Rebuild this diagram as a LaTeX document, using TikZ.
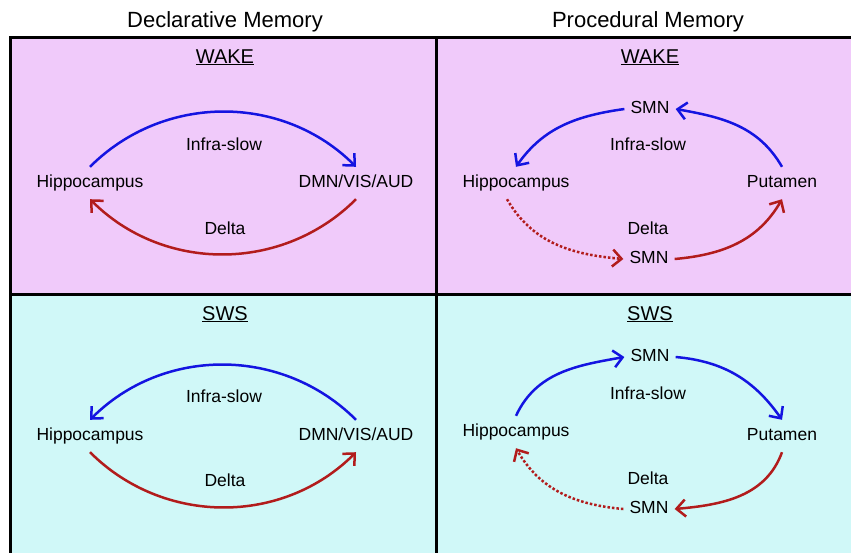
\documentclass[tikz,border=0pt]{standalone}
\usepackage{fontspec}
\setmainfont{Liberation Sans}
\usetikzlibrary{arrows.meta}
\definecolor{wakepink}{RGB}{240,202,250}
\definecolor{swscyan}{RGB}{208,248,248}
\definecolor{infrablue}{RGB}{20,20,225}
\definecolor{deltared}{RGB}{178,28,28}

\begin{document}
\begin{tikzpicture}[x=1pt,y=1pt]
	%
	% `region' is used for the brain regions (Hippocampus, SMN, ...).
	% `band' is used for the frequency bands, `stage' for WAKE and SWS.
	% `infra' and `deltawave' are the blue and red arrows.
	\tikzstyle{region} = [font=\fontsize{17.5}{20}\selectfont,anchor=base,text height=12pt,text depth=4pt,inner xsep=6pt,inner ysep=8pt]
	\tikzstyle{band} = [font=\fontsize{17.5}{20}\selectfont,anchor=base]
	\tikzstyle{stage} = [font=\fontsize{20}{24}\selectfont,anchor=base]
	\tikzstyle{heading} = [font=\fontsize{22}{26}\selectfont,anchor=base]
	\tikzstyle{infra} = [draw=infrablue,line width=2.5pt,-{Straight Barb[length=9pt,width=17pt]}]
	\tikzstyle{deltawave} = [draw=deltared,line width=2.5pt,-{Straight Barb[length=9pt,width=17pt]}]
	\tikzstyle{frame} = [line width=3pt]
	%
	\clip (0,0) rectangle (851,-552);
	%
	% Panels
	\fill[wakepink] (10,-37) rectangle (860,-294);
	\fill[swscyan] (10,-294) rectangle (860,-560);
	\draw[frame] (860,-37) -- (10,-37) -- (10,-560);
	\draw[frame] (436,-37) -- (436,-560);
	\draw[frame] (10,-294) -- (860,-294);
	%
	% Headings
	\node[heading] (declTitle) at (225,-27) {Declarative Memory};
	\node[heading] (procTitle) at (648,-27) {Procedural Memory};
	%
	% Declarative, wake
	\node[stage] (wakeA) at (225,-63) {\underline{WAKE}};
	\node[region] (hipA) at (90,-187) {Hippocampus};
	\node[region] (dmnA) at (356,-187) {DMN/VIS/AUD};
	\node[band] (slowA) at (224,-150) {Infra-slow};
	\node[band] (deltaA) at (225,-234) {Delta};
	\draw[infra] (hipA.north) to[bend left=45] (dmnA.north);
	\draw[deltawave] (dmnA.south) to[bend left=45] (hipA.south);
	%
	% Procedural, wake
	\node[stage] (wakeB) at (650,-63) {\underline{WAKE}};
	\node[region] (smnTopB) at (650,-113) {SMN};
	\node[region] (hipB) at (516,-187) {Hippocampus};
	\node[region] (putB) at (782,-187) {Putamen};
	\node[band] (slowB) at (648,-150) {Infra-slow};
	\node[band] (deltaB) at (648,-234) {Delta};
	\node[region] (smnLowB) at (649,-263) {SMN};
	\draw[infra] (putB.north) to[out=120,in=-10] (smnTopB.east);
	\draw[infra] (smnTopB.west) to[out=188,in=55] (hipB.north);
	\draw[deltawave,dotted] ([xshift=-9pt]hipB.south) to[out=-60,in=175] (smnLowB.west);
	\draw[deltawave] (smnLowB.east) to[out=5,in=-120] (putB.south);
	%
	% Declarative, sws
	\node[stage] (swsC) at (225,-320) {\underline{SWS}};
	\node[region] (hipC) at (90,-440) {Hippocampus};
	\node[region] (dmnC) at (356,-440) {DMN/VIS/AUD};
	\node[band] (slowC) at (224,-402) {Infra-slow};
	\node[band] (deltaC) at (225,-486) {Delta};
	\draw[infra] (dmnC.north) to[bend right=45] (hipC.north);
	\draw[deltawave] (hipC.south) to[bend right=45] (dmnC.south);
	%
	% Procedural, sws
	\node[stage] (swsD) at (650,-320) {\underline{SWS}};
	\node[region] (smnTopD) at (650,-361) {SMN};
	\node[region] (hipD) at (516,-436) {Hippocampus};
	\node[region] (putD) at (782,-440) {Putamen};
	\node[band] (slowD) at (648,-399) {Infra-slow};
	\node[band] (deltaD) at (648,-484) {Delta};
	\node[region] (smnLowD) at (649,-513) {SMN};
	\draw[infra] (hipD.north) to[out=65,in=190] (smnTopD.west);
	\draw[infra] (smnTopD.east) to[out=-5,in=125] (putD.north);
	\draw[deltawave] (putD.south) to[out=-110,in=5] (smnLowD.east);
	\draw[deltawave,dotted] (smnLowD.west) to[out=175,in=-60] (hipD.south);
	%
\end{tikzpicture}
\end{document}
